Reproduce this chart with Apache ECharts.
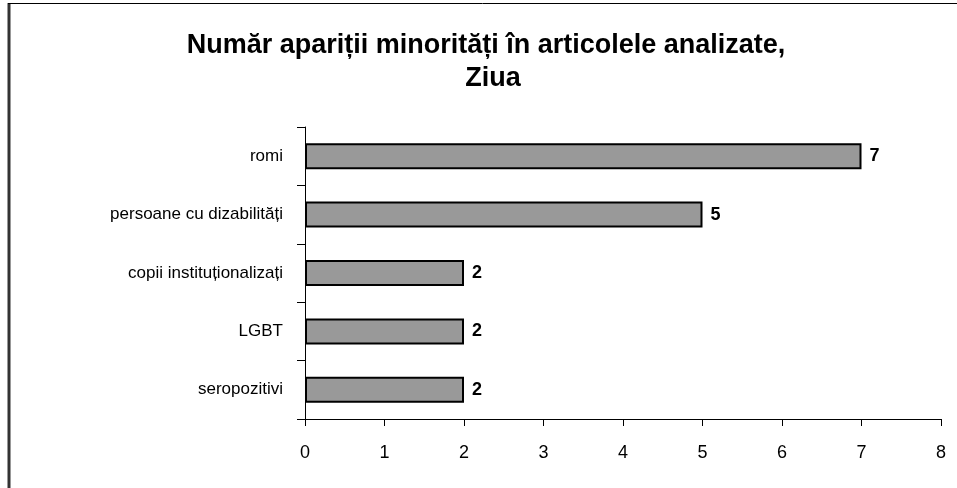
<!DOCTYPE html>
<html>
<head>
<meta charset="utf-8">
<script src="https://cdn.jsdelivr.net/npm/echarts@6/dist/echarts.min.js"></script>
<style>
   html, body { margin: 0 ; padding: 0 ; background: #fff ; }
   #main { width: 957px ; height: 488px ; }
</style>
</head>
<body>
<div id="main"></div>
<script>
var titleLines = [ 'Număr apariții minorități în articolele analizate,', 'Ziua' ] ;
var categories = [ 'romi', 'persoane cu dizabilități', 'copii instituționalizați', 'LGBT', 'seropozitivi' ] ;
var counts = [ 7, 5, 2, 2, 2 ] ;
var xTicks = [ 0, 8, 1 ] ; // min, max, interval

(function(){
   var font = 'Liberation Sans, Arial, sans-serif' ;
   var titleStyle = { fontFamily: font, fontSize: 27, fontWeight: 'bold', color: '#000', lineHeight: 36 } ;
   var chart = echarts.init( document.getElementById( 'main' ) ) ;
   chart.setOption( {
      animation: false,
      backgroundColor: '#fff',
      //两行标题分别居中
      title: [
         { text: titleLines[0], left: 481, top: 23, textAlign: 'center', textStyle: titleStyle },
         { text: titleLines[1], left: 488, top: 56, textAlign: 'center', textStyle: titleStyle }
      ],
      grid: { left: 305, right: 16, top: 127, bottom: 69, containLabel: false },
      xAxis: {
         type: 'value',
         min: xTicks[0], max: xTicks[1], interval: xTicks[2],
         axisLine: { show: true, lineStyle: { color: '#000', width: 1 } },
         axisTick: { show: true, length: 7, lineStyle: { color: '#000' } },
         splitLine: { show: false },
         axisLabel: { margin: 25, fontFamily: font, fontSize: 18, color: '#000' }
      },
      yAxis: {
         type: 'category',
         inverse: true,
         data: categories,
         axisLine: { show: true, lineStyle: { color: '#000', width: 1 } },
         axisTick: { show: true, length: 8, lineStyle: { color: '#000' } },
         axisLabel: { margin: 22, fontFamily: font, fontSize: 17, color: '#000' }
      },
      series: [ {
         type: 'bar',
         data: counts,
         barWidth: 26,
         itemStyle: { color: '#999999', borderColor: '#000', borderWidth: 2 },
         label: { show: true, position: 'right', distance: 8, fontFamily: font, fontSize: 18, fontWeight: 'bold', color: '#000' }
      } ],
      graphic: [
         { type: 'line', shape: { x1: 9, y1: 3, x2: 9, y2: 488 }, style: { stroke: '#333', lineWidth: 3 } },
         { type: 'line', shape: { x1: 8, y1: 3.5, x2: 957, y2: 3.5 }, style: { stroke: '#000', lineWidth: 1 } }
      ]
   } ) ;
}());
</script>
</body>
</html>
